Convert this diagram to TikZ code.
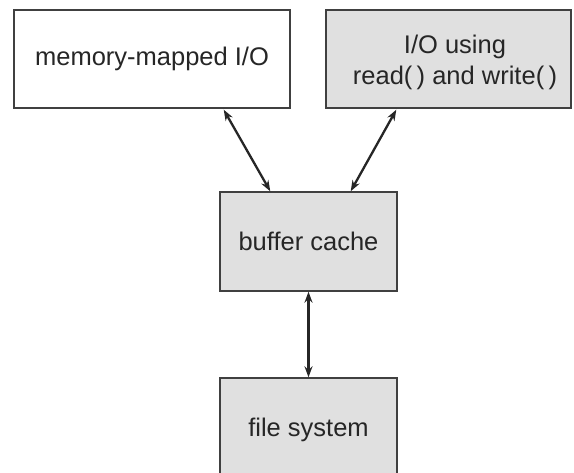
\documentclass[tikz,border=0pt]{standalone}
\usepackage{fontspec}
\setmainfont{Liberation Sans}
\usetikzlibrary{arrows.meta}
\begin{document}
\begin{tikzpicture}[x=1pt,y=-1pt,
  box/.style={draw=black!75,line width=1.4pt,inner sep=0pt,align=center,
    font=\fontsize{25.5}{31}\selectfont,text=black!85},
  shaded/.style={box,fill=black!12},
  link/.style={line width=2.3pt,draw=black!85,{Stealth[length=11pt,width=8pt]}-{Stealth[length=11pt,width=8pt]}}]
\useasboundingbox (0,0) rectangle (574,473);
\node[box,fill=white,minimum width=276pt,minimum height=98pt] (mm) at (152,59) {memory-mapped I/O};
\node[shaded,minimum width=245pt,minimum height=98pt] (rw) at (448.5,59) {};
\node[align=center,font=\fontsize{25.5}{31}\selectfont,text=black!85,inner sep=0pt] (rwt) at (455,62) {I/O using\\read(\,) and write(\,)};
\node[shaded,minimum width=177pt,minimum height=99pt] (bc) at (308.5,241.5) {buffer cache};
\node[shaded,minimum width=177pt,minimum height=104pt] (fs) at (308.5,430) {file system};
\draw[link] ([xshift=-67pt,yshift=-1pt]mm.south east) -- ([xshift=51pt]bc.north west);
\draw[link] ([xshift=71pt,yshift=-1pt]rw.south west) -- ([xshift=-47pt]bc.north east);
\draw[link] (bc.south) -- (fs.north);
\end{tikzpicture}
\end{document}
